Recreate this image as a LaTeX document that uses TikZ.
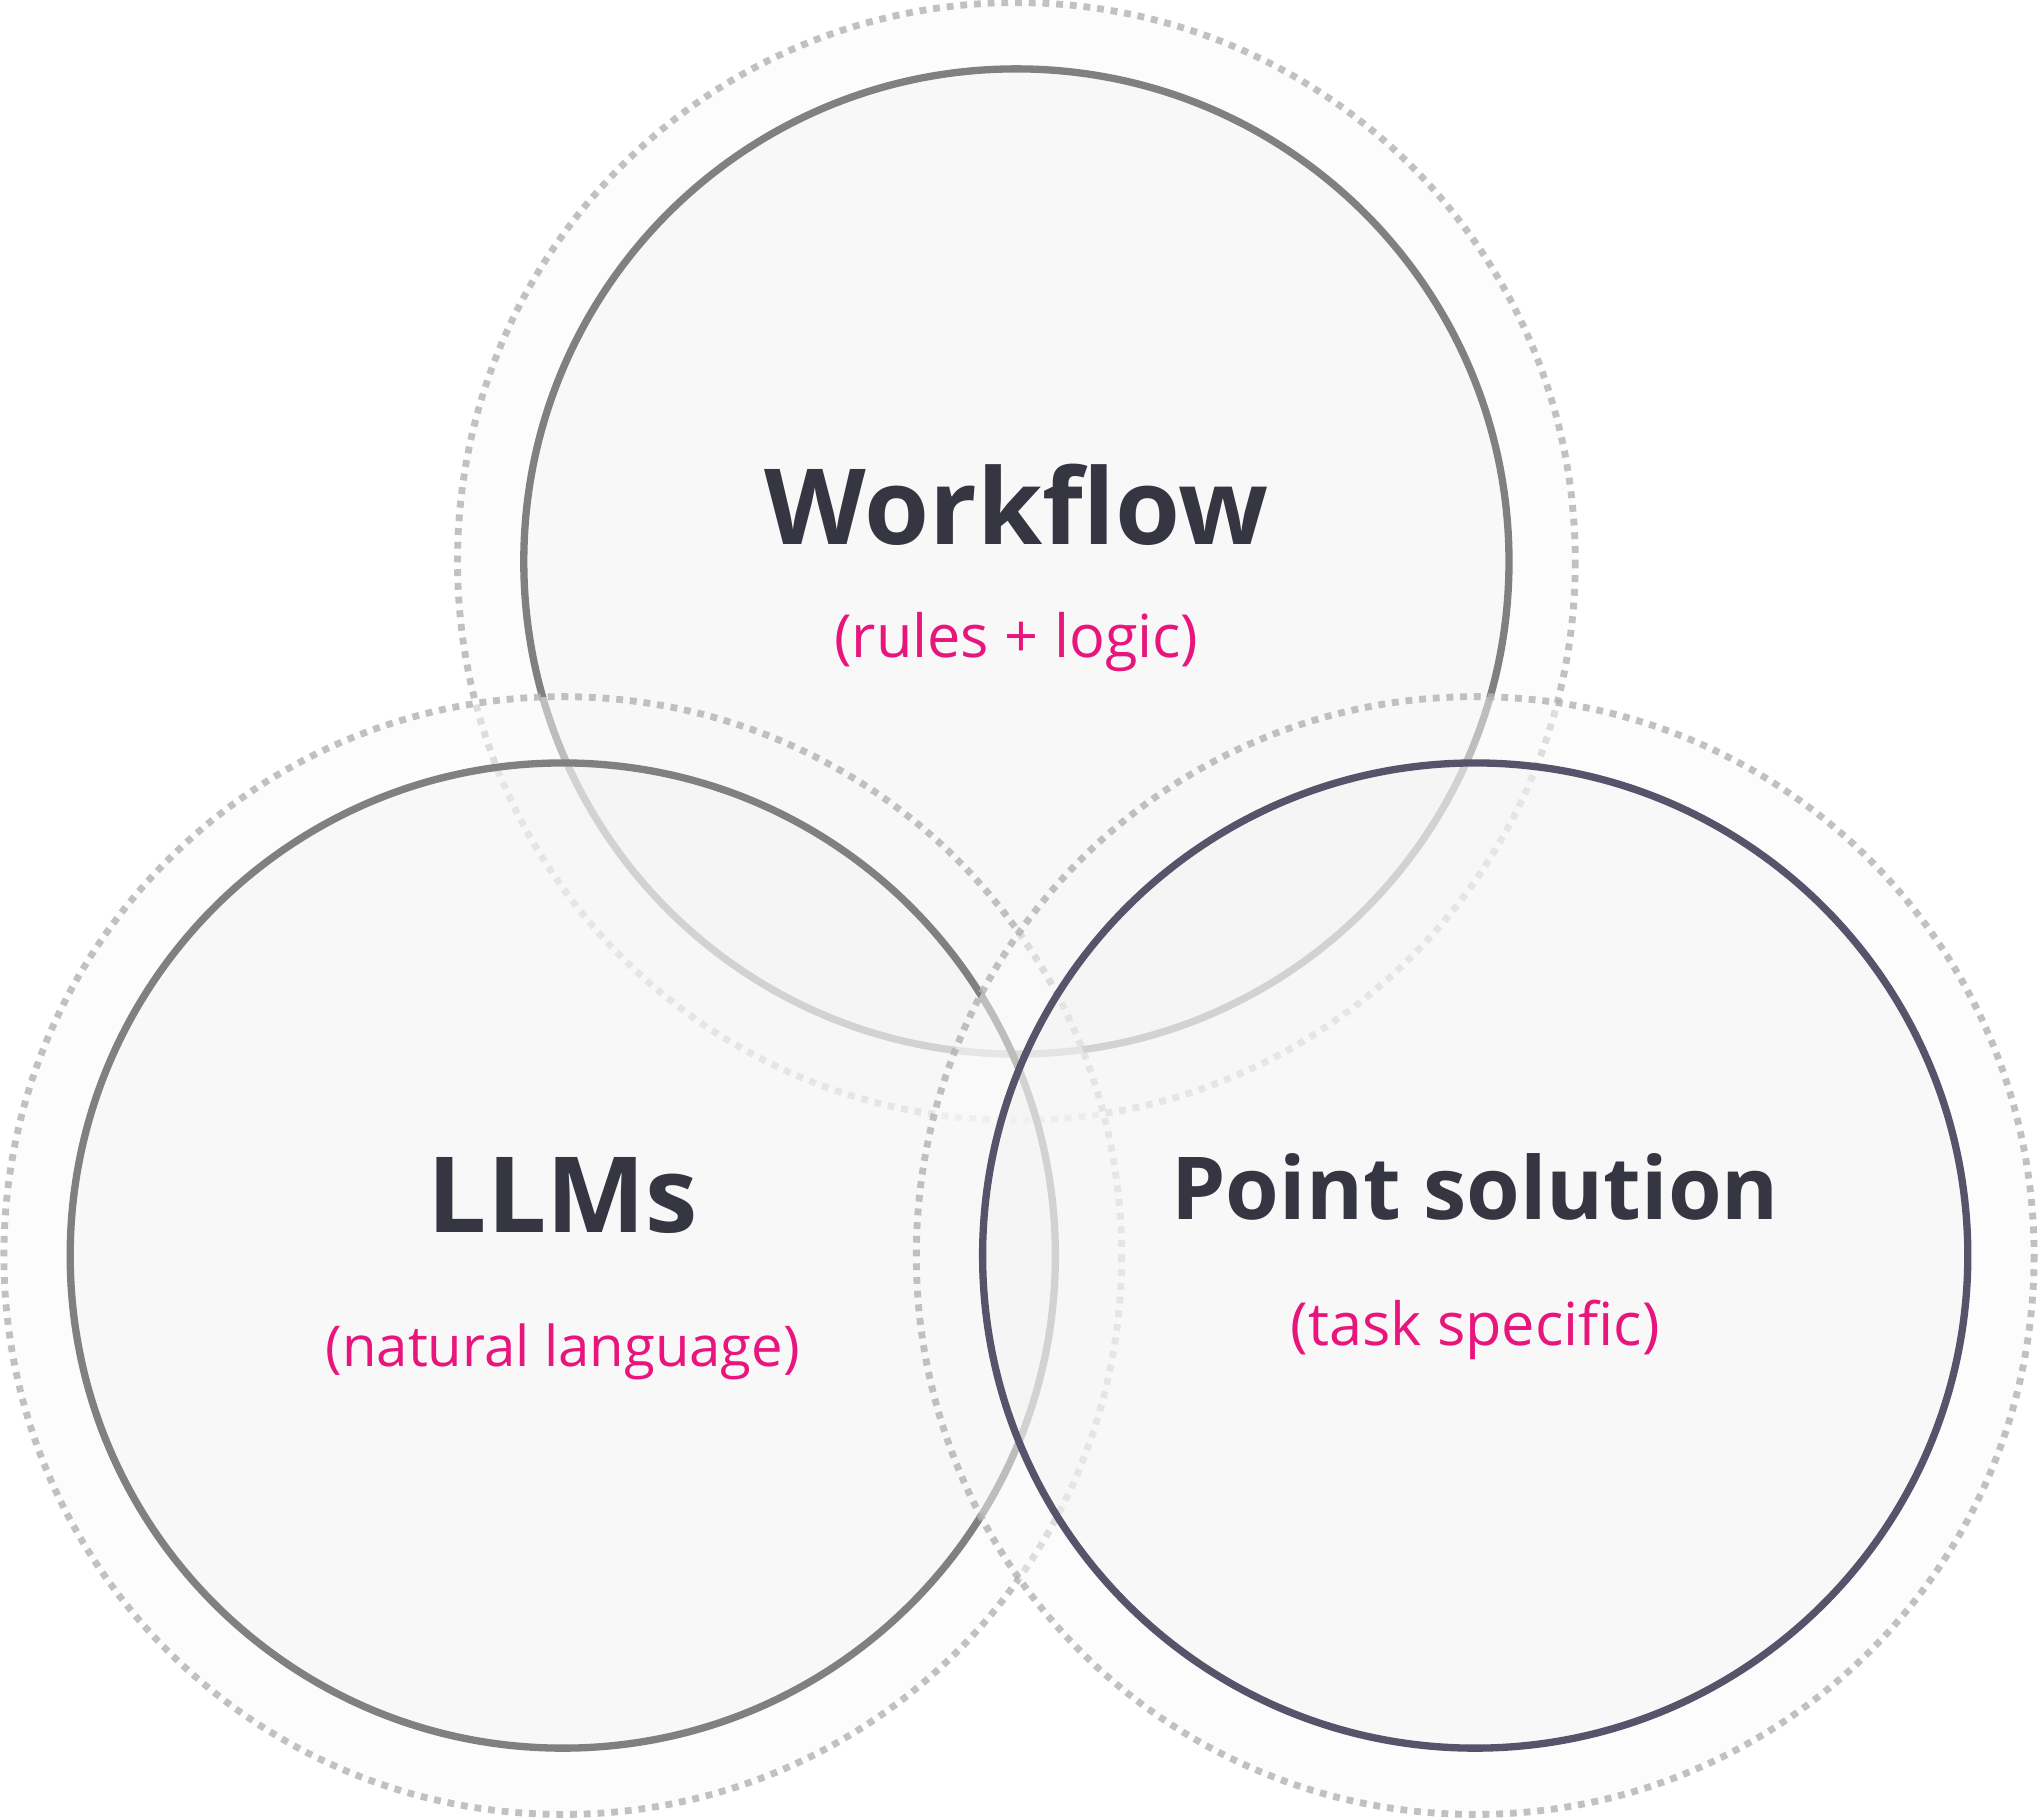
\documentclass[tikz,border=0pt]{standalone}
\usepackage{fontspec}
\setmainfont{Open Sans}
\definecolor{pinkc}{HTML}{E8157C}
\definecolor{darkt}{HTML}{363542}
\definecolor{ringg}{HTML}{808080}
\definecolor{ringd}{HTML}{55546A}
\begin{document}
\begin{tikzpicture}[x=0.01cm,y=-0.01cm,
  outer/.style={draw=gray!60,line width=1.5pt,dash pattern=on 1.5pt off 1.5pt,fill=black!2,fill opacity=0.5,draw opacity=0.8},
  inner/.style={line width=1.6pt,fill=black!5,fill opacity=0.4},
  title/.style={font=\fontsize{23}{28}\selectfont\bfseries,text=darkt},
  sub/.style={font=\fontsize{13}{16}\selectfont,text=pinkc}]
\useasboundingbox (0,0) rectangle (1568,1400);
% Workflow
\draw[outer] (782,432) circle (430);
\draw[inner,draw=ringg] (782,432) circle (379);
% LLMs
\draw[outer] (433,966) circle (430);
\draw[inner,draw=ringg] (433,966) circle (379);
% Point
\draw[outer] (1135,966) circle (430);
\draw[inner,draw=ringd] (1135,966) circle (379);
\node[title] (w) at (782,388) {Workflow};
\node[sub] (ws) at (782,494) {(rules + logic)};
\node[title] (l) at (433,920) {LLMs};
\node[sub,font=\fontsize{12.3}{16}\selectfont] (ls) at (433,1040) {(natural language)};
\node[title,font=\fontsize{19}{24}\selectfont\bfseries] (p) at (1135,913) {Point solution};
\node[sub] (ps) at (1135,1023) {(task specific)};
\end{tikzpicture}
\end{document}
